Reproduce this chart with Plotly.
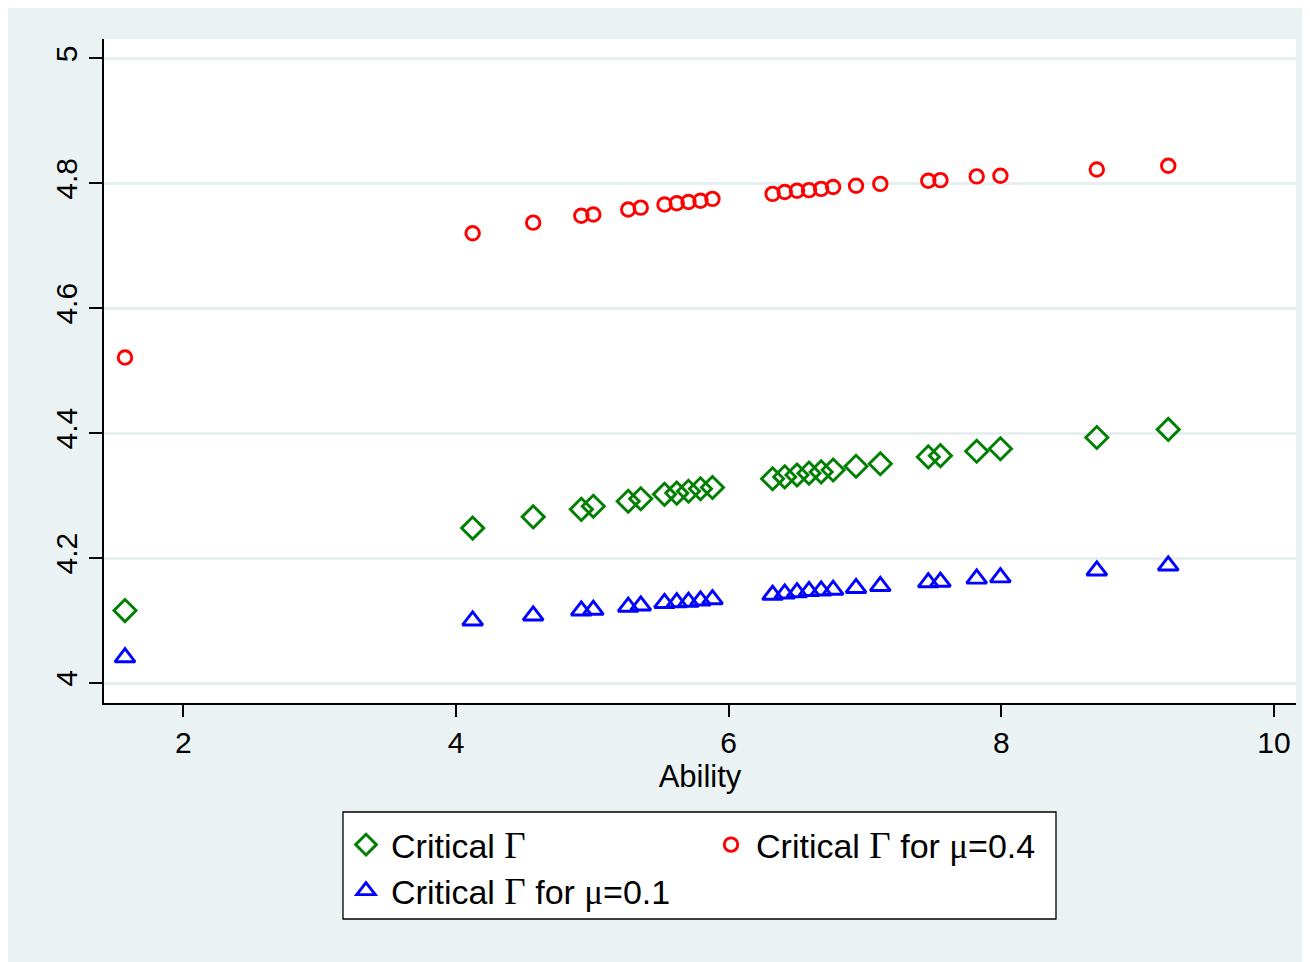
import plotly.graph_objects as go

# ---- data ----
ability = [1.572, 4.122, 4.566, 4.919, 5.007, 5.263, 5.355, 5.529, 5.619, 5.705,
           5.793, 5.881, 6.322, 6.411, 6.501, 6.589, 6.678, 6.766, 6.934, 7.112,
           7.464, 7.553, 7.819, 7.993, 8.700, 9.224]
crit_gamma = [4.116, 4.248, 4.266, 4.278, 4.283, 4.291, 4.295, 4.302, 4.304, 4.307,
              4.311, 4.313, 4.327, 4.330, 4.333, 4.336, 4.338, 4.341, 4.347, 4.351,
              4.362, 4.364, 4.371, 4.375, 4.393, 4.406]
crit_gamma_mu04 = [4.521, 4.720, 4.737, 4.748, 4.750, 4.758, 4.761, 4.766, 4.768, 4.770,
                   4.772, 4.775, 4.783, 4.786, 4.788, 4.789, 4.791, 4.794, 4.796, 4.799,
                   4.804, 4.805, 4.811, 4.812, 4.822, 4.828]
crit_gamma_mu01 = [4.041, 4.100, 4.108, 4.116, 4.117, 4.122, 4.124, 4.128, 4.129, 4.130,
                   4.132, 4.134, 4.141, 4.143, 4.145, 4.147, 4.148, 4.149, 4.152, 4.155,
                   4.161, 4.162, 4.167, 4.169, 4.180, 4.188]
x_ticks = [2, 4, 6, 8, 10]
y_ticks = [4, 4.2, 4.4, 4.6, 4.8, 5]

SERIF = "'Liberation Serif', 'DejaVu Serif', serif"
G = f"<span style=\"font-family:{SERIF};font-size:37px\">Γ</span>"
MU = f"<span style=\"font-family:{SERIF};font-size:35px\">μ</span>"
labels = [f"Critical {G}", f"Critical {G} for {MU}=0.4", f"Critical {G} for {MU}=0.1"]

BG = "#eaf2f3"
GRID = "#e8eff1"
FONT = "Liberation Sans, Arial, sans-serif"

OFF = 8  # page body margin
W, H = 1310 - OFF, 962 - OFF
L, R, T, B = 104 - OFF, 14, 39 - OFF, 259
PW, PH = W - L - R, H - T - B


def px(xp):  # page x -> paper
    return (xp - OFF - L) / PW


def py(yp):  # page y -> paper
    return (H - B - (yp - OFF)) / PH


fig = go.Figure()
fig.add_trace(go.Scatter(
    x=ability, y=crit_gamma, mode="markers", name=labels[0], legend="legend",
    marker=dict(symbol="diamond-open", size=17, color="#008000", line=dict(width=2.9, color="#008000"))))
fig.add_trace(go.Scatter(
    x=ability, y=crit_gamma_mu04, mode="markers", name=labels[1], legend="legend2",
    marker=dict(symbol="circle-open", size=13.5, color="#ff0000", line=dict(width=2.9, color="#ff0000"))))
fig.add_trace(go.Scatter(
    x=ability, y=crit_gamma_mu01, mode="markers", name=labels[2], legend="legend3",
    marker=dict(symbol="triangle-up-open", size=17.5, color="#0000ff", line=dict(width=2.9, color="#0000ff"))))

leg_common = dict(bgcolor="rgba(0,0,0,0)", borderwidth=0, font=dict(family=FONT, size=34, color="black"),
                  xanchor="left", yanchor="middle", itemwidth=40)

fig.update_layout(
    width=W, height=H,
    margin=dict(l=L, r=R, t=T, b=B, autoexpand=False),
    paper_bgcolor=BG, plot_bgcolor="white",
    font=dict(family=FONT, color="black"),
    showlegend=True,
    legend=dict(x=px(341), y=py(845), **leg_common),
    legend2=dict(x=px(706), y=py(845), **leg_common),
    legend3=dict(x=px(341), y=py(891), **leg_common),
    xaxis=dict(range=[1.418, 10.161], tickvals=x_ticks, ticktext=[str(v) for v in x_ticks],
               showgrid=False, zeroline=False, showline=True, linecolor="black", linewidth=1.5,
               ticks="outside", ticklen=12, tickwidth=1.5, tickcolor="black",
               tickfont=dict(size=30, family=FONT, color="black"), ticklabelstandoff=0,
               title=dict(text="Ability", font=dict(size=31, family=FONT, color="black"), standoff=2)),
    yaxis=dict(range=[3.968, 5.031], tickvals=y_ticks, ticktext=[f"{v:g}" for v in y_ticks],
               showgrid=True, gridcolor=GRID, gridwidth=2.5, zeroline=False,
               showline=True, linecolor="black", linewidth=1.5,
               ticks="outside", ticklen=13, tickwidth=1.5, tickcolor="black", tickangle=-90,
               tickfont=dict(size=30, family=FONT, color="black"), ticklabelstandoff=0),
    shapes=[
        # legend frame
        dict(type="rect", xref="paper", yref="paper", x0=px(343), x1=px(1056), y0=py(919), y1=py(812),
             fillcolor="white", line=dict(color="black", width=1.3), layer="above"),
    ],
)

fig.write_html("out.html")
